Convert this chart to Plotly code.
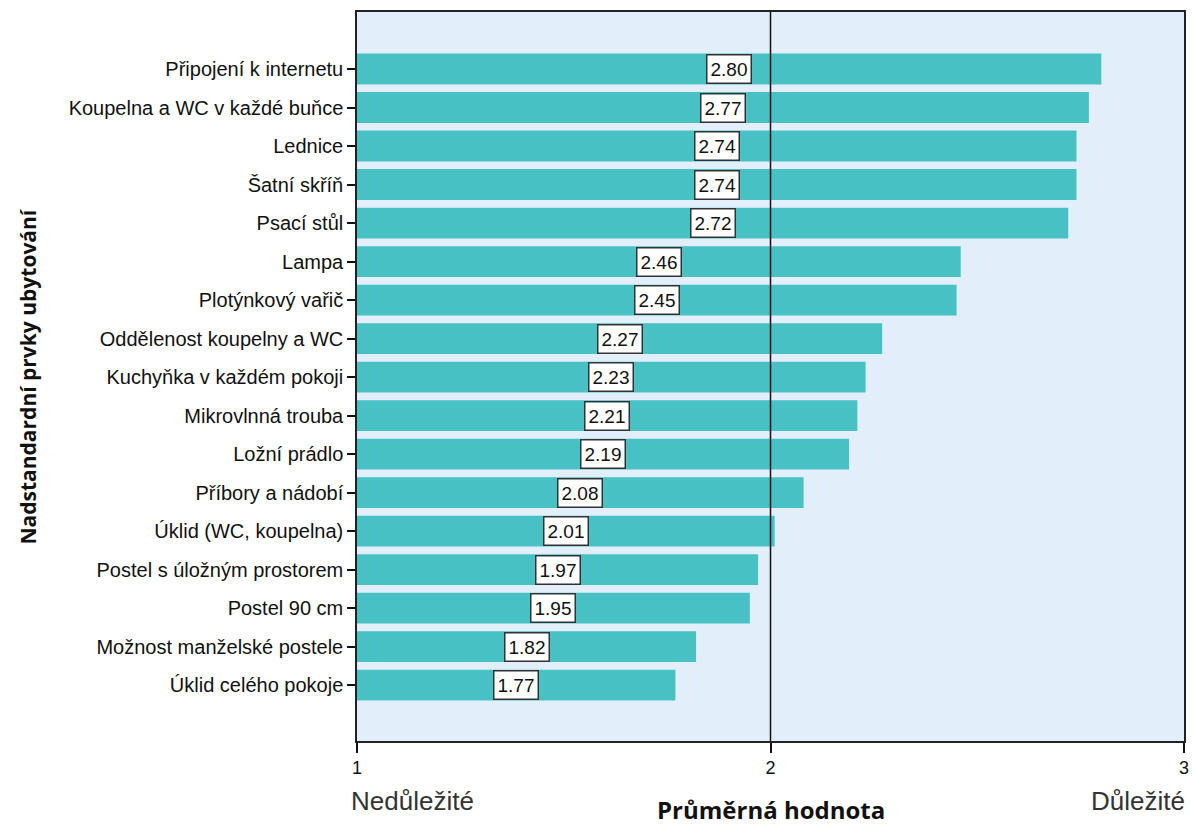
import plotly.graph_objects as go

# Mean importance of above-standard accommodation features (scale 1-3)
features = [
    "Připojení k internetu",
    "Koupelna a WC v každé buňce",
    "Lednice",
    "Šatní skříň",
    "Psací stůl",
    "Lampa",
    "Plotýnkový vařič",
    "Oddělenost koupelny a WC",
    "Kuchyňka v každém pokoji",
    "Mikrovlnná trouba",
    "Ložní prádlo",
    "Příbory a nádobí",
    "Úklid (WC, koupelna)",
    "Postel s úložným prostorem",
    "Postel 90 cm",
    "Možnost manželské postele",
    "Úklid celého pokoje",
]
means = [2.80, 2.77, 2.74, 2.74, 2.72, 2.46, 2.45, 2.27, 2.23, 2.21,
         2.19, 2.08, 2.01, 1.97, 1.95, 1.82, 1.77]

x_ticks = [1, 2, 3]
x_min, x_max = 1, 3
midpoint = 2

BAR = "#48C1C5"
BG = "#E2EEFA"
FONT = "Liberation Sans, Arial, sans-serif"
BOLD = "Open Sans, sans-serif"

fig = go.Figure()
fig.add_trace(go.Bar(
    x=means,
    y=features,
    orientation="h",
    marker=dict(color=BAR, line=dict(width=0)),
    width=0.8,
    hoverinfo="x+y",
))

# boxed value labels centred on each bar
for name, v in zip(features, means):
    fig.add_annotation(
        x=(x_min + v) / 2, y=name, xref="x", yref="y",
        text=f"{v:.2f}", showarrow=False,
        font=dict(family=FONT, size=19, color="#111"),
        bgcolor="white", bordercolor="#333", borderwidth=1.5, borderpad=3,
    )

# reference line at the scale midpoint
fig.add_shape(type="line", xref="x", yref="paper",
              x0=midpoint, x1=midpoint, y0=0, y1=1,
              line=dict(color="#111", width=1.5))

# scale end descriptions and axis titles
fig.add_annotation(x=0, y=0, xref="paper", yref="paper", yshift=-60,
                   text="Nedůležité", showarrow=False, xanchor="left", yanchor="middle",
                   font=dict(family=FONT, size=26, color="#333"), xshift=-8)
fig.add_annotation(x=1, y=0, xref="paper", yref="paper", yshift=-60,
                   text="Důležité", showarrow=False, xanchor="right", yanchor="middle",
                   font=dict(family=FONT, size=26, color="#333"), xshift=3)
fig.add_annotation(x=0.5, y=0, xref="paper", yref="paper", yshift=-68,
                   text="<b>Průměrná hodnota</b>", showarrow=False, yanchor="middle",
                   font=dict(family=BOLD, size=24, color="#111"))
fig.add_annotation(x=0, y=0.5, xref="paper", yref="paper", xshift=-330,
                   text="<b>Nadstandardní prvky ubytování</b>", showarrow=False,
                   textangle=-90, xanchor="center", yanchor="middle",
                   font=dict(family=BOLD, size=21, color="#111"))

n = len(features)
fig.update_layout(
    width=1193, height=825,
    margin=dict(l=357, r=4, t=12, b=84),
    paper_bgcolor="white",
    plot_bgcolor=BG,
    showlegend=False,
    font=dict(family=FONT, size=20, color="#111"),
    xaxis=dict(
        range=[x_min, x_max], tickvals=x_ticks, ticktext=[str(t) for t in x_ticks],
        ticks="outside", ticklen=10, tickwidth=1.5, tickcolor="#111",
        showline=True, linecolor="#222", linewidth=1.5, mirror=True,
        showgrid=False, zeroline=False,
        tickfont=dict(family=FONT, size=18, color="#111"),
    ),
    yaxis=dict(
        type="category",
        range=[n - 1 + 1.45, -1.48],
        ticks="outside", ticklen=8, tickwidth=1.5, tickcolor="#111",
        showline=True, linecolor="#222", linewidth=1.5, mirror=True,
        showgrid=False, zeroline=False,
        tickfont=dict(family=FONT, size=20, color="#111"),
    ),
)

fig.write_html("out.html")
